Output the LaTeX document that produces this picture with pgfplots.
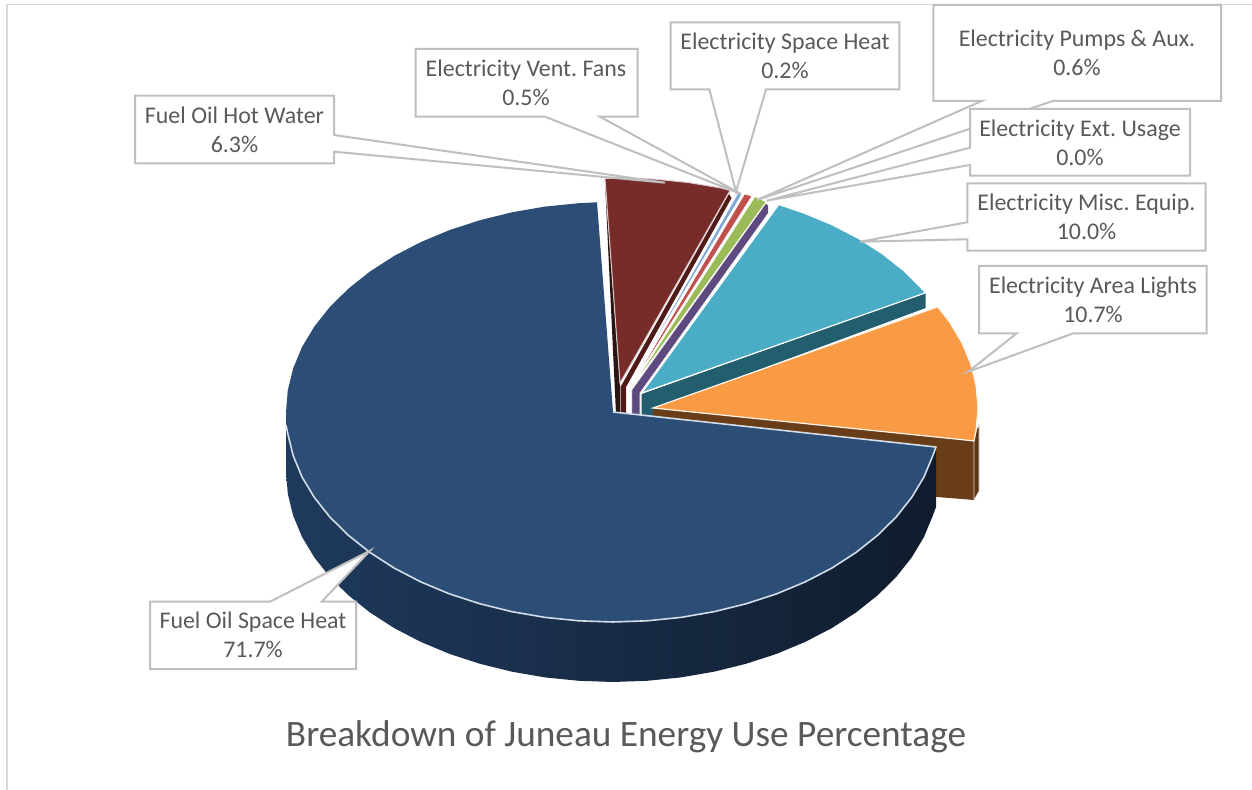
\documentclass[border=0pt]{standalone}
\usepackage{pgfplots}
\pgfplotsset{compat=1.18}
\usepackage{fontspec}
\setmainfont{Carlito}

\definecolor{navytop}{HTML}{2C4D76}
\definecolor{navyrim}{HTML}{D3DDE8}
\definecolor{navyL}{HTML}{1F3A5D}
\definecolor{navyM}{HTML}{18304C}
\definecolor{navyR}{HTML}{0F1C2D}
\definecolor{maroon}{HTML}{772C2A}
\definecolor{maroonside}{HTML}{4F1A18}
\definecolor{maroondark}{HTML}{2A1512}
\definecolor{fanblue}{HTML}{7FA6D6}
\definecolor{heatred}{HTML}{C0504D}
\definecolor{pumpgreen}{HTML}{9BBB59}
\definecolor{usagepurple}{HTML}{5F4A80}
\definecolor{misccyan}{HTML}{4BACC6}
\definecolor{miscside}{HTML}{235E6E}
\definecolor{lightorange}{HTML}{F99A45}
\definecolor{lightbrown}{HTML}{693D18}
\definecolor{lightbrownout}{HTML}{5A3414}
\definecolor{boxline}{HTML}{BFBFBF}
\definecolor{labeltext}{HTML}{595959}
\definecolor{frameline}{HTML}{D9D9D9}

\tikzset{
  callout/.style={fill=white, draw=boxline, line width=1pt, line join=miter},
  lab/.style={font=\fontsize{11.95pt}{14.6pt}\selectfont\frenchspacing, text=labeltext, align=center, inner sep=0pt},
}

\begin{document}
\begin{tikzpicture}
\begin{axis}[
  scale only axis, width=626pt, height=395pt,
  xmin=0, xmax=1252, ymin=0, ymax=790, y dir=reverse,
  hide axis,
]
% page background and chart frame
\addplot[fill=white, draw=none] coordinates {(0,0) (1252,0) (1252,790) (0,790)} -- cycle;
\addplot[draw=frameline, line width=0.75pt] coordinates {(7,790) (7,4.5) (1252,4.5)};

% Electricity Ext. Usage: only its cut face shows
\addplot[fill=usagepurple, draw=white, line width=0.3pt] coordinates {
  (631.7,390) (765.7,203.3) (768.3,205) (768.3,213.3) (640,393) (640,416) (631.7,416)} -- cycle;

% Fuel Oil Hot Water: faces, then top
\addplot[fill=maroondark, draw=none] coordinates {(605,182) (620,386) (620,414) (616,414)} -- cycle;
\addplot[fill=maroonside, draw=none] coordinates {
  (620.5,387) (729,194) (731.5,198) (626,387) (626,414) (620.5,414)} -- cycle;
\addplot[fill=maroon, draw=maroon!25!white, line width=0.5pt] coordinates {
  (620,383) (730,190.5) (721,188) (688,182.5) (654.2,179.1) (620,178) (605,178.5)} -- cycle;

% thin slices between hot water and miscellaneous equipment
\addplot[fill=fanblue, draw=white, line width=0.3pt] coordinates {(626.5,389) (738,193) (742,194)} -- cycle;
\addplot[fill=heatred, draw=white, line width=0.3pt] coordinates {(628.5,390) (744.5,194) (752,196)} -- cycle;
\addplot[fill=pumpgreen, draw=white, line width=0.3pt] coordinates {(630,390) (755,196.5) (766,202)} -- cycle;

% Electricity Misc. Equip.
\addplot[fill=miscside, draw=none] coordinates {
  (641.7,394) (925.6,292.8) (925.6,308) (653,409) (653,417) (641.7,417)} -- cycle;
\addplot[fill=misccyan, draw=white, line width=0.6pt] coordinates {
  (641.7,393) (778.7,204.5) (803.7,212.9) (832.1,224.7) (858.5,238.4) (882.5,253.8)
  (903.8,270.7) (922.3,289) (925.6,292.8)} -- cycle;

% Electricity Area Lights
\addplot[fill=lightbrown, draw=none] coordinates {
  (653,408) (974,441) (974,500) (937,497) (653,440)} -- cycle;
\addplot[fill=lightbrownout, draw=white!80!lightbrown, line width=0.3pt] coordinates {
  (974,441) (976.2,430) (979,425) (979,491) (974,500)} -- cycle;
\addplot[fill=lightorange, draw=white!90!lightorange, line width=0.6pt] coordinates {
  (653,408) (937.8,306.8) (949.9,322.6) (962.1,343.1) (970.9,364.3) (976.2,386.1)
  (978,408) (976.2,429.9) (974,440.9)} -- cycle;

% Fuel Oil Space Heat: outer wall, then top, then the pale rim on its lit edges
\addplot[left color=navyL, middle color=navyM, right color=navyR, draw=none] coordinates {
  (613,412) (286,412) (286,472) (287.8,493.9) (293.2,515.7) (302,536.9) (314.3,557.4)
  (329.8,577) (348.5,595.4) (370,612.5) (394.2,628.1) (420.8,641.9) (449.5,653.9)
  (480,663.8) (512,671.7) (545,677.4) (578.8,680.8) (613,682) (647.2,680.8) (681,677.4)
  (714,671.7) (746,663.8) (776.5,653.9) (805.2,641.9) (831.8,628.1) (856,612.5)
  (877.5,595.4) (896.2,577) (911.7,557.4) (924,536.9) (932.8,515.7) (936,507) (936,447)} -- cycle;
\addplot[fill=navytop, draw=none] coordinates {
  (613,412) (597,202.3) (578.8,203.2) (545,206.6) (512,212.3) (480,220.2) (449.5,230.1)
  (420.8,242.1) (394.2,255.9) (370,271.5) (348.5,288.6) (329.8,307) (314.3,326.6)
  (302,347.1) (293.2,368.3) (287.8,390.1) (286,412) (287.8,433.9) (293.2,455.7) (302,476.9)
  (314.3,497.4) (329.8,517) (348.5,535.4) (370,552.5) (394.2,568.1) (420.8,581.9)
  (449.5,593.9) (480,603.8) (512,611.7) (545,617.4) (578.8,620.8) (613,622) (647.2,620.8)
  (681,617.4) (714,611.7) (746,603.8) (776.5,593.9) (805.2,581.9) (831.8,568.1) (856,552.5)
  (877.5,535.4) (896.2,517) (911.7,497.4) (924,476.9) (932.8,455.7) (936,447)} -- cycle;
\addplot[draw=navyrim, line width=0.8pt, line join=round] coordinates {
  (286,425) (287.8,433.9) (293.2,455.7) (302,476.9)
  (314.3,497.4) (329.8,517) (348.5,535.4) (370,552.5) (394.2,568.1) (420.8,581.9)
  (449.5,593.9) (480,603.8) (512,611.7) (545,617.4) (578.8,620.8) (613,622) (647.2,620.8)
  (681,617.4) (714,611.7) (746,603.8) (776.5,593.9) (805.2,581.9) (831.8,568.1) (856,552.5)
  (877.5,535.4) (896.2,517) (911.7,497.4) (924,476.9) (932.8,455.7) (936,447) (613,412)};

% data label callouts
\addplot[callout] coordinates {(135,95.7) (334,95.7) (334,135) (665,182.7) (334,151.7) (334,163.3) (135,163.3)} -- cycle;
\addplot[callout] coordinates {(415.7,49) (637.7,49) (637.7,116.7) (600,116.7) (741,194) (545,116.7) (415.7,116.7)} -- cycle;
\addplot[callout] coordinates {(670.7,22.3) (899.3,22.3) (899.3,89.3) (766,89.3) (736,191.7) (709.3,89.3) (670.7,89.3)} -- cycle;
\addplot[callout] coordinates {(933.3,5) (1221,5) (1221,101) (1053,101) (757,200) (981.7,101) (933.3,101)} -- cycle;
\addplot[callout] coordinates {(970,109) (1190,109) (1190,175.7) (970,175.7) (970,165) (766.7,200.7) (970,147.7)} -- cycle;
\addplot[callout] coordinates {(967.3,183.3) (1205.7,183.3) (1205.7,250.7) (967.3,250.7) (967.3,239.3) (860,241.7) (967.3,222.3)} -- cycle;
\addplot[callout] coordinates {(979,266) (1206.7,266) (1206.7,333.3) (1073.3,333.3) (968.3,371.7) (1016.7,333.3) (979,333.3)} -- cycle;
\addplot[callout] coordinates {(150,601.7) (270,601.7) (370,550.7) (321.7,601.7) (356,601.7) (356,669) (150,669)} -- cycle;

\node[lab] at (axis cs:234.5,130) {Fuel Oil Hot Water\\6.3\%};
\node[lab] at (axis cs:526,83) {Electricity Vent. Fans\\0.5\%};
\node[lab] at (axis cs:785,56) {Electricity Space Heat\\0.2\%};
\node[lab] at (axis cs:1077,53) {Electricity Pumps \& Aux.\\0.6\%};
\node[lab] at (axis cs:1080,143) {Electricity Ext. Usage\\0.0\%};
\node[lab] at (axis cs:1086.5,217) {Electricity Misc. Equip.\\10.0\%};
\node[lab] at (axis cs:1093,300) {Electricity Area Lights\\10.7\%};
\node[lab] at (axis cs:253,635) {Fuel Oil Space Heat\\71.7\%};

% chart title
\node[font=\fontsize{18.65pt}{22pt}\selectfont, text=labeltext, inner sep=0pt] at (axis cs:626,737) {Breakdown of Juneau Energy Use Percentage};
\end{axis}
\end{tikzpicture}
\end{document}
